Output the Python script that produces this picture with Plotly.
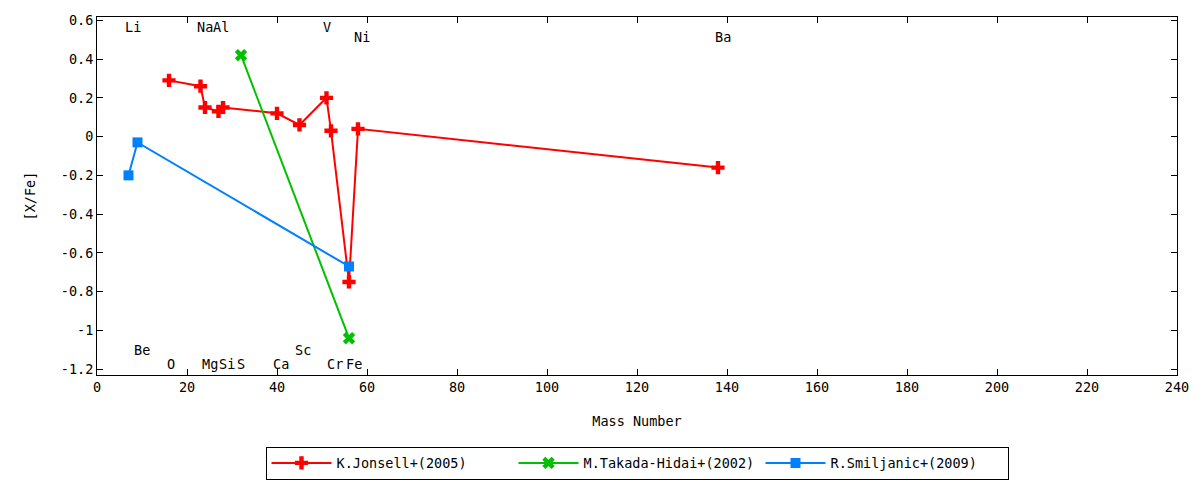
import plotly.graph_objects as go

# mass numbers and [X/Fe] per study
jonsell_mass = [16, 23, 24, 27, 28, 40, 45, 51, 52, 56, 58, 138]
jonsell_xfe = [0.29, 0.26, 0.15, 0.13, 0.15, 0.12, 0.06, 0.20, 0.03, -0.75, 0.04, -0.16]

takada_mass = [32, 56]
takada_xfe = [0.42, -1.04]

smiljanic_mass = [7, 9, 56]
smiljanic_xfe = [-0.20, -0.03, -0.67]

# element labels (x, y in data units)
elem_names = ['Li', 'Na', 'Al', 'V', 'Ni', 'Ba',
              'Be', 'Sc', 'O', 'Mg', 'Si', 'S', 'Ca', 'Cr', 'Fe']
elem_x = [8.0, 24.0, 27.6, 51.0, 58.9, 139.0,
          9.9, 45.8, 16.4, 25.0, 28.8, 31.9, 40.9, 52.9, 57.1]
elem_y = [0.565, 0.565, 0.565, 0.565, 0.513, 0.513,
          -1.10, -1.10, -1.175, -1.175, -1.175, -1.175, -1.175, -1.175, -1.175]

y_ticks = [-1.2, -1.0, -0.8, -0.6, -0.4, -0.2, 0.0, 0.2, 0.4, 0.6]
y_ticklabels = ['-1.2', '-1', '-0.8', '-0.6', '-0.4', '-0.2', '0', '0.2', '0.4', '0.6']

FONT = 'DejaVu Sans Mono'
FS = 13.5


def main():
    fig = go.Figure()

    fig.add_trace(go.Scatter(
        x=jonsell_mass, y=jonsell_xfe, mode='lines+markers',
        name='K.Jonsell+(2005)',
        line=dict(color='#ff0000', width=2),
        marker=dict(symbol='cross', size=11, color='#ff0000'),
    ))
    fig.add_trace(go.Scatter(
        x=takada_mass, y=takada_xfe, mode='lines+markers',
        name='M.Takada-Hidai+(2002)',
        line=dict(color='#00c000', width=2),
        marker=dict(symbol='x', size=11, color='#00c000'),
    ))
    fig.add_trace(go.Scatter(
        x=smiljanic_mass, y=smiljanic_xfe, mode='lines+markers',
        name='R.Smiljanic+(2009)',
        line=dict(color='#0080ff', width=2),
        marker=dict(symbol='square', size=10, color='#0080ff'),
    ))

    for name, x, y in zip(elem_names, elem_x, elem_y):
        fig.add_annotation(x=x, y=y, text=name, showarrow=False,
                           xanchor='center', yanchor='middle',
                           font=dict(family=FONT, size=FS, color='black'))

    axis_style = dict(
        showline=True, linecolor='black', linewidth=1, mirror='ticks',
        ticks='inside', ticklen=6, tickcolor='black',
        showgrid=False, zeroline=False, automargin=False,
        tickfont=dict(family=FONT, size=FS, color='black'),
    )

    fig.update_layout(
        width=1200, height=480,
        margin=dict(l=97, r=23, t=17, b=105, autoexpand=False),
        plot_bgcolor='white', paper_bgcolor='white',
        font=dict(family=FONT, size=FS, color='black'),
        xaxis=dict(range=[0, 240], tick0=0, dtick=20,
                   title=dict(text='Mass Number', standoff=22, font=dict(size=FS)),
                   **axis_style),
        yaxis=dict(range=[-1.23, 0.617], tickmode='array',
                   tickvals=y_ticks, ticktext=y_ticklabels,
                   title=dict(text='[X/Fe]', standoff=22, font=dict(size=FS)),
                   **axis_style),
        legend=dict(orientation='h', x=0.5, xanchor='center',
                    y=-0.2, yanchor='top',
                    bordercolor='black', borderwidth=1,
                    font=dict(family=FONT, size=FS),
                    itemwidth=60, tracegroupgap=0,
                    entrywidth=172),
        showlegend=True,
    )

    # drop the default body margin so the figure fills the window exactly
    fig.write_html('out.html', config={'displayModeBar': False},
                   post_script="document.body.style.margin='0';")


if __name__ == '__main__':
    main()
